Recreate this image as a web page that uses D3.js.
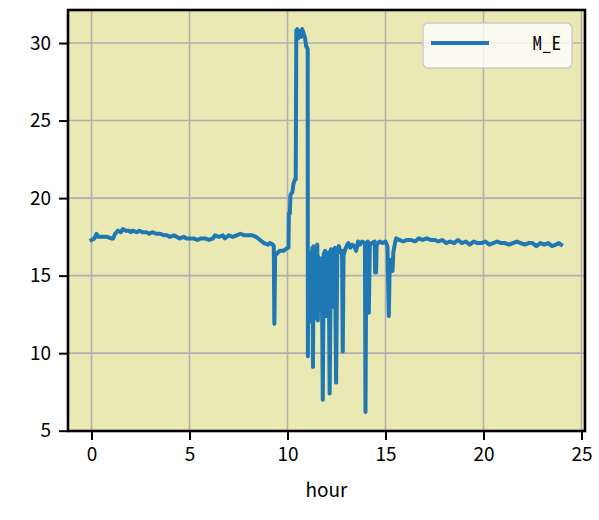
<!DOCTYPE html>
<html><head><meta charset="utf-8">
<script src="https://cdn.jsdelivr.net/npm/d3@7"></script>
<style>body{margin:0;background:#fff}svg{display:block}</style>
</head><body>
<script>
const seriesName = "M_E";
const hours = [
 0.00,0.15,0.25,0.35,0.50,0.80,1.00,1.10,1.20,1.35,1.50,1.60,1.75,1.90,2.00,2.10,2.30,2.45,2.60,2.80,
 2.95,3.10,3.30,3.50,3.70,3.85,4.00,4.20,4.35,4.50,4.70,4.85,5.00,5.20,5.40,5.60,5.80,6.00,6.20,6.30,
 6.50,6.70,6.80,7.00,7.20,7.40,7.60,7.80,8.00,8.20,8.40,8.60,8.80,9.00,9.10,9.25,9.30,9.33,9.37,9.45,
 9.60,9.80,10.00,10.05,10.07,10.12,10.15,10.25,10.30,10.38,10.42,10.45,10.50,10.55,10.60,10.70,10.75,10.85,10.90,10.95,
 11.00,11.03,
 11.04,11.06,11.08,11.10,11.12,11.15,11.18,11.21,11.24,11.27,11.30,11.33,11.36,11.39,11.42,11.45,11.48,11.52,11.55,11.58,
 11.62,11.65,11.68,11.72,11.76,11.80,
 11.85,11.92,11.97,12.02,12.10,12.15,12.22,12.28,12.31,12.36,12.42,12.48,12.54,12.62,12.70,12.78,12.82,12.86,12.95,13.05,
 13.10,13.20,13.30,13.40,13.50,13.60,13.70,13.80,13.95,13.98,14.02,14.10,14.15,14.20,14.30,14.45,14.47,14.52,14.55,14.70,
 14.85,15.00,15.10,15.17,15.22,15.30,15.36,15.40,15.50,15.55,15.70,15.90,16.10,16.30,16.50,16.70,16.90,17.10,17.30,17.50,
 17.70,17.90,18.10,18.30,18.50,18.70,18.90,19.10,19.30,19.50,19.70,19.90,20.10,20.30,20.50,20.70,20.90,21.10,21.30,21.50,
 21.70,21.90,22.10,22.30,22.50,22.70,22.90,23.10,23.30,23.50,23.70,23.85,23.96
];
const values = [
 17.3,17.4,17.7,17.5,17.5,17.5,17.4,17.4,17.7,17.9,17.8,18.0,17.9,17.9,17.8,17.9,17.8,17.9,17.8,17.8,
 17.7,17.8,17.7,17.7,17.6,17.6,17.5,17.6,17.5,17.4,17.5,17.4,17.4,17.4,17.3,17.4,17.4,17.3,17.4,17.6,
 17.5,17.6,17.4,17.6,17.5,17.6,17.7,17.6,17.6,17.6,17.5,17.3,17.1,17.0,17.1,17.0,16.9,11.9,16.3,16.4,
 16.6,16.6,16.8,16.8,19.0,19.0,20.2,20.4,20.9,21.2,21.2,30.8,30.9,30.3,30.8,30.4,30.9,30.5,30.3,29.8,
 29.7,29.6,
 9.8,16.0,12.3,15.8,12.6,16.2,12.8,16.5,12.0,16.8,9.1,16.9,12.2,15.9,12.4,16.3,12.6,17.0,12.1,16.2,
 13.0,16.0,12.8,16.1,13.8,7.0,
 16.4,16.6,12.4,16.3,16.5,7.4,16.7,16.5,13.0,16.4,16.8,8.1,16.6,16.9,16.5,16.6,10.1,16.3,16.7,17.0,
 17.1,16.8,17.0,16.9,16.6,17.2,17.0,17.2,17.1,6.2,17.0,17.2,12.6,17.0,17.1,17.2,15.2,15.2,17.0,17.2,
 17.1,17.2,16.9,12.4,16.0,16.0,15.3,16.5,17.2,17.4,17.3,17.2,17.3,17.3,17.2,17.4,17.3,17.4,17.3,17.3,
 17.2,17.3,17.1,17.2,17.1,17.3,17.1,17.2,17.0,17.2,17.1,17.1,17.2,17.0,17.1,17.2,17.1,17.1,17.0,17.1,
 17.2,17.1,17.0,17.1,17.1,16.9,17.1,17.0,17.1,16.9,17.0,17.1,17.0
];
const xTicks = [0,5,10,15,20,25];
const yTicks = [5,10,15,20,25,30];
const xLabel = "hour";

const W = 599, H = 520;
const L = 68, R = 585, T = 10, B = 431;
const svg = d3.select("body").append("svg").attr("width", W).attr("height", H);
const x = d3.scaleLinear().domain([-1.2, 25.18]).range([L, R]);
const y = d3.scaleLinear().domain([4.98, 32.13]).range([B, T]);
const font = "'Noto Sans CJK JP','Noto Sans',sans-serif";

svg.append("rect").attr("x", L).attr("y", T).attr("width", R - L).attr("height", B - T).attr("fill", "#ebe9b3");

// grid
svg.append("g").selectAll("line").data(xTicks).join("line")
  .attr("x1", d => x(d)).attr("x2", d => x(d)).attr("y1", T).attr("y2", B)
  .attr("stroke", "#b0b0b0").attr("stroke-width", 1.6);
svg.append("g").selectAll("line").data(yTicks).join("line")
  .attr("x1", L).attr("x2", R).attr("y1", d => y(d)).attr("y2", d => y(d))
  .attr("stroke", "#b0b0b0").attr("stroke-width", 1.6);

// clip
svg.append("clipPath").attr("id", "clip").append("rect")
  .attr("x", L).attr("y", T).attr("width", R - L).attr("height", B - T);

const data = hours.map((h, i) => [h, values[i]]);
const line = d3.line().x(d => x(d[0])).y(d => y(d[1]));
svg.append("path").datum(data).attr("d", line).attr("clip-path", "url(#clip)")
  .attr("fill", "none").attr("stroke", "#1f77b4").attr("stroke-width", 4)
  .attr("stroke-linejoin", "round").attr("stroke-linecap", "square");

// axes
const xAxis = d3.axisBottom(x).tickValues(xTicks).tickSize(9).tickPadding(8).tickFormat(d3.format("d"));
const gx = svg.append("g").attr("transform", `translate(0,${B})`).call(xAxis);
const yAxis = d3.axisLeft(y).tickValues(yTicks).tickSize(9).tickPadding(8).tickFormat(d3.format("d"));
const gy = svg.append("g").attr("transform", `translate(${L},0)`).call(yAxis);
[gx, gy].forEach(g => {
  g.select(".domain").remove();
  g.selectAll(".tick line").attr("stroke", "#000").attr("stroke-width", 2);
  g.selectAll(".tick text").attr("fill", "#000").style("font-family", font).style("font-size", "19px");
});

// frame
svg.append("rect").attr("x", L).attr("y", T).attr("width", R - L).attr("height", B - T)
  .attr("fill", "none").attr("stroke", "#000").attr("stroke-width", 2.6);

svg.append("text").attr("x", (L + R) / 2).attr("y", 497).attr("text-anchor", "middle")
  .style("font-family", font).style("font-size", "19px").attr("fill", "#000").text(xLabel);

// legend
const lg = svg.append("g");
lg.append("rect").attr("x", 423).attr("y", 23).attr("width", 149).attr("height", 45).attr("rx", 5)
  .attr("fill", "#ffffff").attr("fill-opacity", 0.8).attr("stroke", "#cccccc").attr("stroke-width", 1.5);
lg.append("line").attr("x1", 431).attr("x2", 489).attr("y1", 43).attr("y2", 43)
  .attr("stroke", "#1f77b4").attr("stroke-width", 4);
lg.append("text").attr("x", 561).attr("y", 45).attr("text-anchor", "end").attr("dominant-baseline", "middle")
  .style("font-family", "'Noto Sans Mono CJK JP','DejaVu Sans Mono',monospace").style("font-size", "19px")
  .attr("fill", "#000").text(seriesName);
</script>
</body></html>
